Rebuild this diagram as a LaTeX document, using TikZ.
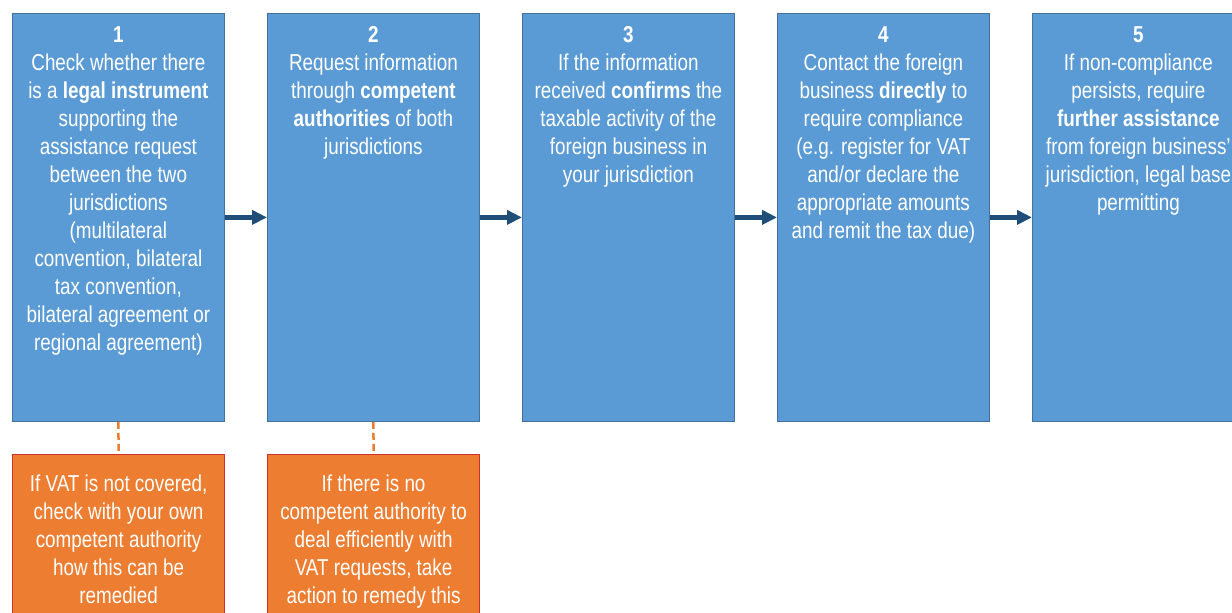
\documentclass[tikz,border=0pt]{standalone}
\usepackage{fontspec}
\setmainfont{Liberation Sans}[FakeStretch=0.82]
\usetikzlibrary{arrows.meta}
\definecolor{boxblue}{HTML}{5B9BD5}
\definecolor{boxblueedge}{HTML}{41719C}
\definecolor{boxorange}{HTML}{ED7D31}
\definecolor{boxred}{HTML}{D2312A}
\definecolor{arrowblue}{HTML}{1F4E79}
\tikzset{
  stepbox/.style={draw=boxblueedge, line width=0.8pt, fill=boxblue, minimum width=212pt, minimum height=408pt, inner sep=0pt, anchor=north west},
  notebox/.style={draw=boxred, line width=1.2pt, fill=boxorange, minimum width=212pt, minimum height=200pt, inner sep=0pt, anchor=north west},
  boxtext/.style={anchor=north, inner sep=0pt, align=center, text=white, font=\fontsize{23}{28}\selectfont},
  flow/.style={draw=arrowblue, line width=5pt, -{Triangle[length=15pt,width=14pt]}, shorten >=0pt},
  dashlink/.style={draw=boxorange, line width=2.5pt, dash pattern=on 7pt off 4pt}
}
\newcommand{\fl}{\rule{0pt}{20pt}}
\begin{document}
\begin{tikzpicture}[x=1pt,y=-1pt]
\useasboundingbox (0,0) rectangle (1232,613);
\clip (0,0) rectangle (1232,613);
\node[stepbox] (b1) at (12,13) {};
\node[stepbox] (b2) at (267,13) {};
\node[stepbox] (b3) at (522,13) {};
\node[stepbox] (b4) at (777,13) {};
\node[stepbox] (b5) at (1032,13) {};
\node[notebox] (o1) at (12,454) {};
\node[notebox] (o2) at (267,454) {};

\node[boxtext] (t1) at ([yshift=-9pt]b1.north) {\fl\textbf{1}\\Check whether there\\is a \textbf{legal instrument}\\supporting the\\assistance request\\between the two\\jurisdictions\\(multilateral\\convention, bilateral\\tax convention,\\bilateral agreement or\\regional agreement)};
\node[boxtext] (t2) at ([yshift=-9pt]b2.north) {\fl\textbf{2}\\Request information\\through \textbf{competent}\\\textbf{authorities} of both\\jurisdictions};
\node[boxtext] (t3) at ([yshift=-9pt]b3.north) {\fl\textbf{3}\\If the information\\received \textbf{confirms} the\\taxable activity of the\\foreign business in\\your jurisdiction};
\node[boxtext] (t4) at ([yshift=-9pt]b4.north) {\fl\textbf{4}\\Contact the foreign\\business \textbf{directly} to\\require compliance\\(e.g. register for VAT\\and/or declare the\\appropriate amounts\\and remit the tax due)};
\node[boxtext] (t5) at ([yshift=-9pt]b5.north) {\fl\textbf{5}\\If non-compliance\\persists, require\\\textbf{further assistance}\\from foreign business’\\jurisdiction, legal base\\permitting};
\node[boxtext] (u1) at ([yshift=-17pt]o1.north) {\fl If VAT is not covered,\\check with your own\\competent authority\\how this can be\\remedied};
\node[boxtext] (u2) at ([yshift=-17pt]o2.north) {\fl If there is no\\competent authority to\\deal efficiently with\\VAT requests, take\\action to remedy this};

\draw[flow] (b1.east) -- (b2.west);
\draw[flow] (b2.east) -- (b3.west);
\draw[flow] (b3.east) -- (b4.west);
\draw[flow] (b4.east) -- (b5.west);
\draw[dashlink] (b1.south) -- (o1.north);
\draw[dashlink] (b2.south) -- (o2.north);
\end{tikzpicture}
\end{document}
